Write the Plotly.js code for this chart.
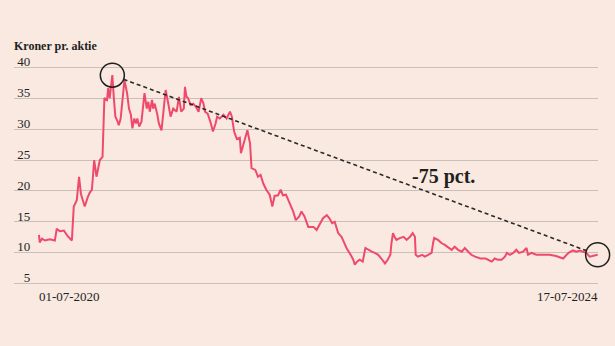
<!DOCTYPE html>
<html>
<head>
<meta charset="utf-8">
<script src="https://cdn.plot.ly/plotly-3.0.1.min.js"></script>
<style>html,body{margin:0;padding:0;background:#f9e9e0;}</style>
</head>
<body>
<div id="chart" style="width:615px;height:346px;"></div>
<script>
// Share price, DKK per share
const dates = [
'2020-07-01','2020-07-03','2020-07-09','2020-07-17','2020-07-30','2020-08-12','2020-08-17','2020-08-25','2020-09-05','2020-09-15',
'2020-09-26','2020-10-01','2020-10-09','2020-10-15','2020-10-20','2020-10-30','2020-11-07','2020-11-12','2020-11-18','2020-11-24',
'2020-11-30','2020-12-09','2020-12-16','2020-12-21','2020-12-28','2020-12-31','2021-01-04','2021-01-11','2021-01-15','2021-01-19',
'2021-01-25','2021-01-28','2021-02-02','2021-02-08','2021-02-12','2021-02-19','2021-02-24','2021-03-01','2021-03-05','2021-03-10',
'2021-03-15','2021-03-18','2021-03-23','2021-03-29','2021-04-01','2021-04-06','2021-04-12','2021-04-16','2021-04-20','2021-04-26',
'2021-04-29','2021-05-03','2021-05-10','2021-05-14','2021-05-21','2021-05-27','2021-06-01','2021-06-07','2021-06-14','2021-06-21',
'2021-06-30','2021-07-06','2021-07-12','2021-07-19','2021-07-22','2021-07-26','2021-07-30','2021-08-06','2021-08-13','2021-08-20',
'2021-08-27','2021-09-03','2021-09-09','2021-09-13','2021-09-20','2021-09-27','2021-10-04','2021-10-11','2021-10-15','2021-10-22',
'2021-11-01','2021-11-09','2021-11-18','2021-11-23','2021-11-29','2021-12-06','2021-12-14','2021-12-17','2021-12-23',
'2022-01-03','2022-01-10','2022-01-14','2022-01-24','2022-01-31','2022-02-07','2022-02-14','2022-02-22','2022-03-03','2022-03-10',
'2022-03-16','2022-03-25','2022-04-01','2022-04-07','2022-04-15','2022-04-25','2022-05-04','2022-05-11','2022-05-20','2022-05-26',
'2022-06-03','2022-06-13','2022-06-27','2022-07-05','2022-07-13','2022-07-22','2022-08-01','2022-08-08','2022-08-15','2022-08-22',
'2022-08-31','2022-09-09','2022-09-15','2022-09-22','2022-10-03','2022-10-10','2022-10-14','2022-10-20','2022-10-27','2022-11-04',
'2022-11-11','2022-11-18','2022-11-28','2022-12-06','2022-12-15','2022-12-23','2023-01-02','2023-01-09','2023-01-16','2023-01-19',
'2023-01-23','2023-01-27','2023-02-01','2023-02-10','2023-02-20','2023-02-28','2023-03-09','2023-03-16','2023-03-22','2023-03-24',
'2023-03-30','2023-04-10','2023-04-17','2023-04-26','2023-05-05','2023-05-09','2023-05-12','2023-05-22','2023-05-31','2023-06-09',
'2023-06-19','2023-06-27','2023-07-05','2023-07-14','2023-07-24','2023-08-01','2023-08-10','2023-08-18','2023-08-28','2023-09-11',
'2023-09-25','2023-10-02','2023-10-11','2023-10-19','2023-10-27','2023-11-06','2023-11-15','2023-11-20','2023-11-28','2023-12-07',
'2023-12-15','2023-12-22','2024-01-02','2024-01-11','2024-01-15','2024-01-24','2024-02-06','2024-02-23','2024-03-12','2024-03-29',
'2024-04-17','2024-04-26','2024-05-03','2024-05-13','2024-05-22','2024-05-31','2024-06-07','2024-06-17','2024-06-26','2024-07-05',
'2024-07-17'
];
const prices = [
12.9,11.7,12.3,12.0,12.2,12.0,13.9,13.5,13.6,12.7,
12.0,17.5,18.5,22.3,19.5,17.5,19.0,19.7,20.2,25.0,
22.3,25.0,25.5,35.0,34.7,36.6,35.0,38.7,35.0,32.0,
31.2,30.6,31.7,35.0,37.9,35.8,33.3,32.3,30.1,31.7,
30.9,31.7,30.4,31.2,32.8,35.8,33.3,34.4,32.8,34.7,
33.3,34.1,32.3,30.9,29.8,33.3,36.3,34.4,32.0,33.3,
32.8,35.2,32.8,33.3,36.8,35.2,35.0,33.9,34.1,33.6,
32.8,35.0,34.1,32.8,32.5,31.2,29.6,30.9,32.0,31.7,
32.3,31.7,32.8,32.0,29.6,28.4,28.6,26.1,27.4,
29.8,27.7,23.7,23.4,22.3,22.6,21.2,20.2,19.4,17.5,
19.2,19.3,20.2,19.3,19.4,18.0,16.7,15.3,15.9,16.7,
15.9,14.2,14.2,13.7,14.5,15.6,16.1,15.6,14.8,15.0,
13.2,12.6,11.8,10.8,9.7,8.9,8.1,8.6,8.9,8.6,
10.8,10.5,10.2,10.0,9.7,9.1,8.3,8.9,9.7,11.6,
13.2,12.6,12.1,12.4,12.6,12.1,12.6,13.2,12.6,9.7,
9.4,9.7,9.4,9.7,10.0,11.6,12.4,12.1,11.6,11.3,
10.8,10.5,11.0,10.5,10.2,10.8,10.2,9.7,9.4,9.1,
9.1,8.9,8.6,9.1,8.9,8.9,9.4,10.0,9.7,10.0,
10.5,10.0,10.2,10.8,9.7,10.0,9.7,9.7,9.7,9.5,
9.1,9.7,10.1,10.4,10.2,10.4,10.2,10.0,9.4,9.5,
9.7
];
const yTicks = [5, 10, 15, 20, 25, 30, 35, 40];
const xTickDates = ['2020-07-01', '2024-07-17'];
const xTickLabels = ['01-07-2020', '17-07-2024'];
const yTitle = 'Kroner pr. aktie';
const changeLabel = '-75 pct.';
const changeLabelPos = {x: '2023-06-06', y: 22.4};

const BG = '#f9e9e0';
const LINE = '#ef4a6c';
const GRID = '#cbc0b9';
const INK = '#1f1f1f';
const SERIF = 'Liberation Serif, Times New Roman, serif';

const W = 615, H = 346;
const M = {l: 14, r: 17, t: 64, b: 59};
const xRange = ['2020-04-26', '2024-07-18'];
const yRange = [4.5, 40.5];

// peak and end of series
let pk = 0;
prices.forEach((v, i) => { if (v > prices[pk]) pk = i; });
const last = prices.length - 1;

// axis scale helpers (paper fractions and pixel offsets)
const plotW = W - M.l - M.r, plotH = H - M.t - M.b;
const t0 = Date.parse(xRange[0]), t1 = Date.parse(xRange[1]);
const xFrac = d => (Date.parse(d) - t0) / (t1 - t0);
const yFrac = v => (v - yRange[0]) / (yRange[1] - yRange[0]);
const dxPx = (xFrac(dates[last]) - xFrac(dates[pk])) * plotW;
const dyPx = (yFrac(prices[last]) - yFrac(prices[pk])) * plotH;
const len = Math.sqrt(dxPx * dxPx + dyPx * dyPx);
const R = 12;
const ux = dxPx / len, uy = dyPx / len;

const traces = [
  {
    x: dates, y: prices, type: 'scatter', mode: 'lines',
    line: {color: LINE, width: 2, shape: 'linear'},
    hoverinfo: 'x+y', showlegend: false
  },
  {
    x: [dates[last]], y: [prices[last]], xaxis: 'x2', yaxis: 'y2',
    type: 'scatter', mode: 'markers', marker: {opacity: 0, size: 1},
    hoverinfo: 'skip', showlegend: false
  }
];

const tickFont = {family: SERIF, size: 13, color: INK};

function ring(d, v) {
  return {
    type: 'circle', xref: 'paper', yref: 'paper', xsizemode: 'pixel', ysizemode: 'pixel',
    xanchor: xFrac(d), yanchor: yFrac(v), x0: -R, x1: R, y0: -R, y1: R,
    line: {color: INK, width: 1.5}, fillcolor: 'rgba(0,0,0,0)'
  };
}

const layout = {
  width: W, height: H,
  paper_bgcolor: BG, plot_bgcolor: BG,
  margin: M,
  showlegend: false,
  title: {
    text: '<b>' + yTitle + '</b>',
    font: {family: SERIF, size: 12, color: INK},
    xref: 'container', x: 14 / W, xanchor: 'left',
    yref: 'container', y: 1 - 46 / H, yanchor: 'middle'
  },
  xaxis: {
    type: 'date', range: xRange, showgrid: false, zeroline: false, showline: false,
    tickmode: 'array', tickvals: [xTickDates[0]], ticktext: [xTickLabels[0]],
    ticks: '', ticklabelposition: 'outside right', tickfont: tickFont, fixedrange: true
  },
  xaxis2: {
    type: 'date', range: xRange, overlaying: 'x', anchor: 'y', side: 'bottom',
    showgrid: false, zeroline: false, showline: false,
    tickmode: 'array', tickvals: [xTickDates[1]], ticktext: [xTickLabels[1]],
    ticks: '', ticklabelposition: 'outside left', tickfont: tickFont, fixedrange: true
  },
  yaxis: {
    range: yRange, tickmode: 'array', tickvals: yTicks, showticklabels: false,
    showgrid: true, gridcolor: GRID, gridwidth: 1, zeroline: false, showline: false,
    ticks: '', fixedrange: true
  },
  yaxis2: {
    range: yRange, overlaying: 'y', anchor: 'free', position: 0.028, side: 'left',
    tickmode: 'array', tickvals: yTicks, ticktext: yTicks.map(String),
    showgrid: false, zeroline: false, showline: false, ticks: '',
    ticklabelshift: -6, tickfont: tickFont, fixedrange: true
  },
  shapes: [
    ring(dates[pk], prices[pk]),
    ring(dates[last], prices[last]),
    {
      type: 'line', xref: 'paper', yref: 'paper', xsizemode: 'pixel', ysizemode: 'pixel',
      xanchor: xFrac(dates[pk]), yanchor: yFrac(prices[pk]),
      x0: ux * R, y0: uy * R, x1: dxPx - ux * R, y1: dyPx - uy * R,
      line: {color: '#2a2a2a', width: 1.6, dash: '4px,3px'}
    }
  ],
  annotations: [
    {
      x: changeLabelPos.x, y: changeLabelPos.y, xref: 'x', yref: 'y',
      text: '<b>' + changeLabel + '</b>', showarrow: false,
      font: {family: SERIF, size: 20, color: INK},
      xanchor: 'center', yanchor: 'middle'
    }
  ]
};

Plotly.newPlot('chart', traces, layout, {displayModeBar: false, staticPlot: true});
</script>
</body>
</html>
